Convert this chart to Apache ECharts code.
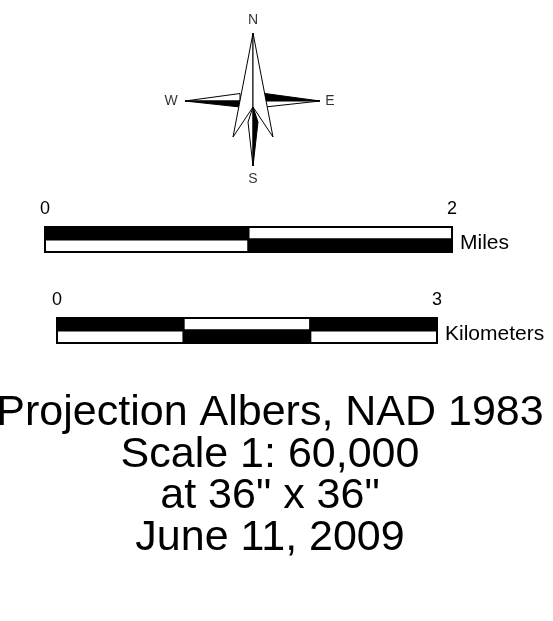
<!DOCTYPE html>
<html>
<head>
<meta charset="utf-8">
<script src="https://cdn.jsdelivr.net/npm/echarts@6/dist/echarts.min.js"></script>
<style>
  html, body { margin: 0; padding: 0; background: #fff; }
  #main { width: 553px; height: 621px; }
</style>
</head>
<body>
<div id="main"></div>
<script>
// 指北针 (offsets from the rose centre, y up)
var westTop    = [[-68, 0], [-13, 7.5], [-13, 0]];
var westBottom = [[-68, 0], [-13, 0], [-13, -6]];
var eastTop    = [[67, 0], [12, 7.5], [12, 0]];
var eastBottom = [[67, 0], [12, 0], [12, -6]];
var northLeft  = [[0, 68], [-20, -36], [0, -6]];
var northRight = [[0, 68], [20, -36], [0, -6]];
var southLeft  = [[0, -6], [-5, -21], [0, -65]];
var southRight = [[0, -6], [5, -21], [0, -65]];

var rosePieces = [westTop, westBottom, eastTop, eastBottom, northLeft, northRight, southLeft, southRight];
var roseDark   = [false, true, true, false, false, false, false, true];

var roseLabels = ['N', 'E', 'S', 'W'];
var roseLabelPos = [[0, 81], [77, 0], [0, -78], [-82, 0]];

// 比例尺
var mileBreaks = [0, 1, 2];
var kmBreaks = [0, 1, 2, 3];
var mileTicks = ['0', '2'];
var kmTicks = ['0', '3'];

var footLines = ['Projection Albers, NAD 1983', 'Scale 1: 60,000', 'at 36" x 36"', 'June 11, 2009'];

var FONT = 'Liberation Sans, Arial, sans-serif';

function barData(breaks) {
  var out = [];
  for (var row = 0; row < 2; row++) {
    for (var i = 0; i < breaks.length - 1; i++) {
      out.push([breaks[i], breaks[i + 1], row, i]);
    }
  }
  return out;
}

function renderBar(params, api) {
  var x0 = api.value(0), x1 = api.value(1);
  var row = api.value(2), i = api.value(3);
  var p0 = api.coord([x0, row === 0 ? 2 : 1]);
  var p1 = api.coord([x1, row === 0 ? 1 : 0]);
  var dark = (i + row) % 2 === 0;
  return {
    type: 'rect',
    shape: { x: p0[0], y: p0[1], width: p1[0] - p0[0], height: p1[1] - p0[1] },
    style: { fill: dark ? '#000' : '#fff', stroke: '#000', lineWidth: 2 }
  };
}

function renderRose(params, api) {
  var idx = api.value(2);
  var pts = rosePieces[idx].map(function (p) { return api.coord(p); });
  return {
    type: 'polygon',
    shape: { points: pts },
    style: { fill: roseDark[idx] ? '#000' : '#fff', stroke: '#000', lineWidth: 1 }
  };
}

function scaleAxis(gridIndex, max, ticks) {
  return {
    type: 'value', gridIndex: gridIndex, min: 0, max: max, interval: max,
    position: 'top',
    axisLine: { show: false }, axisTick: { show: false }, splitLine: { show: false },
    axisLabel: {
      show: true, margin: 9, fontSize: 18, color: '#000', fontFamily: FONT,
      showMinLabel: true, showMaxLabel: true,
      formatter: function (v) { return v === 0 ? ticks[0] : ticks[1]; }
    }
  };
}

function hiddenAxis(gridIndex, min, max) {
  return { type: 'value', gridIndex: gridIndex, min: min, max: max, show: false };
}

var chart = echarts.init(document.getElementById('main'));

var graphics = [
  { type: 'text', x: 460, y: 243, style: { text: 'Miles', fontSize: 21, fontFamily: FONT, fill: '#000', verticalAlign: 'middle' } },
  { type: 'text', x: 445, y: 334, style: { text: 'Kilometers', fontSize: 21, fontFamily: FONT, fill: '#000', verticalAlign: 'middle' } }
];
footLines.forEach(function (t, i) {
  graphics.push({
    type: 'text', x: 270, y: 413 + i * 41.7,
    style: { text: t, fontSize: 43, fontFamily: FONT, fill: '#000', align: 'center', verticalAlign: 'middle' }
  });
});

var option = {
  animation: false,
  backgroundColor: '#fff',
  grid: [
    { left: 163, top: 11, width: 180, height: 180 },
    { left: 45, top: 227, width: 407, height: 25 },
    { left: 57, top: 318, width: 380, height: 25 }
  ],
  xAxis: [
    hiddenAxis(0, -90, 90),
    scaleAxis(1, 2, mileTicks),
    scaleAxis(2, 3, kmTicks)
  ],
  yAxis: [
    hiddenAxis(0, -90, 90),
    hiddenAxis(1, 0, 2),
    hiddenAxis(2, 0, 2)
  ],
  series: [
    {
      type: 'custom', xAxisIndex: 0, yAxisIndex: 0,
      renderItem: renderRose,
      encode: { x: 0, y: 1 },
      data: rosePieces.map(function (p, i) { return [p[0][0], p[0][1], i]; })
    },
    {
      type: 'scatter', xAxisIndex: 0, yAxisIndex: 0, symbolSize: 0,
      label: {
        show: true, position: 'inside', fontSize: 14, color: '#000', fontFamily: FONT,
        formatter: function (p) { return roseLabels[p.dataIndex]; }
      },
      data: roseLabelPos
    },
    {
      type: 'custom', xAxisIndex: 1, yAxisIndex: 1,
      renderItem: renderBar,
      encode: { x: [0, 1], y: 2 },
      data: barData(mileBreaks)
    },
    {
      type: 'custom', xAxisIndex: 2, yAxisIndex: 2,
      renderItem: renderBar,
      encode: { x: [0, 1], y: 2 },
      data: barData(kmBreaks)
    }
  ],
  graphic: graphics
};

chart.setOption(option);
</script>
</body>
</html>
